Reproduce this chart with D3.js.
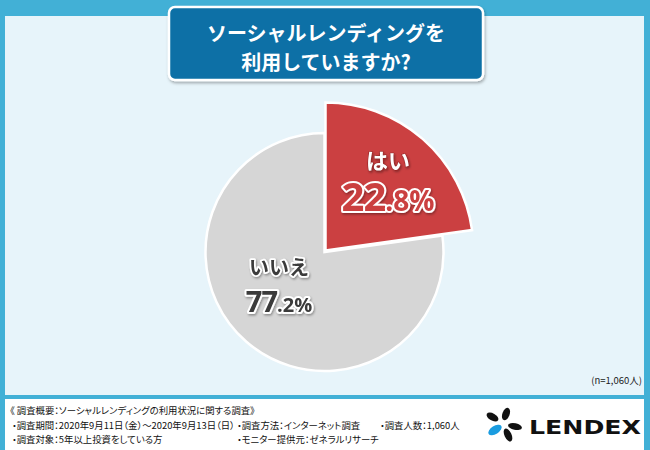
<!DOCTYPE html>
<html><head><meta charset="utf-8">
<script src="https://cdn.jsdelivr.net/npm/d3@7"></script>
<style>
html,body{margin:0;padding:0;background:#fff;}
svg{display:block;font-family:"Noto Sans CJK JP","Noto Sans",sans-serif;}
.sm{font-feature-settings:"palt" 1;}
</style></head>
<body><svg id="c" width="650" height="450"></svg>
<script>
const categories = ["はい", "いいえ"];
const values = [22.8, 77.2];
const intParts = ["22", "77"];
const decParts = [".8%", ".2%"];
const titleLines = ["ソーシャルレンディングを", "利用していますか?"];
const sampleNote = "(n=1,060人)";
const summaryTitle = "《 調査概要：ソーシャルレンディングの利用状況に関する調査》";
const summaryItems = [
  ["・調査期間：2020年9月11日（金）～2020年9月13日（日）", "・調査方法：インターネット調査", "・調査人数：1,060人"],
  ["・調査対象：5年以上投資をしている方", "・モニター提供元：ゼネラルリサーチ"]
];
const brand = "LENDEX";

const svg = d3.select("#c");
const defs = svg.append("defs");
const f = defs.append("filter").attr("id","sh").attr("x","-20%").attr("y","-20%").attr("width","140%").attr("height","140%");
f.append("feDropShadow").attr("dx",1).attr("dy",1.5).attr("stdDeviation",1.2).attr("flood-color","#000").attr("flood-opacity",0.35);
const f2 = defs.append("filter").attr("id","sh2").attr("x","-10%").attr("y","-10%").attr("width","120%").attr("height","130%");
f2.append("feDropShadow").attr("dx",1).attr("dy",2).attr("stdDeviation",1.5).attr("flood-color","#000").attr("flood-opacity",0.3);

// frame
svg.append("rect").attr("width",650).attr("height",450).attr("fill","#42b0d6");
svg.append("rect").attr("x",5).attr("y",16).attr("width",639).attr("height",379).attr("fill","#e7f4fa");
svg.append("rect").attr("x",5).attr("y",399).attr("width",639).attr("height",51).attr("fill","#ffffff");

// title box
svg.append("rect").attr("x",169).attr("y",7).attr("width",314).attr("height",73).attr("rx",6)
  .attr("fill","#0a70a6").attr("stroke","#fff").attr("stroke-width",2.5).attr("filter","url(#sh2)");
svg.append("g").selectAll("text").data(titleLines).join("text")
  .attr("x",326).attr("y",(d,i)=>41+i*29).attr("text-anchor","middle")
  .attr("fill","#fff").attr("font-weight","bold").attr("font-size",20)
  .text(d=>d);

// pie
const pie = d3.pie().sort(null).value(d=>d)(values);
const radii = [148, 119];
const centers = [[325.5,250.5],[324.5,252]];
const colors = ["#cb4041","#d6d6d6"];
const order = [1,0];
order.forEach(i=>{
  const arc = d3.arc().innerRadius(0).outerRadius(radii[i]);
  svg.append("path").attr("transform",`translate(${centers[i]})`)
    .attr("d",arc(pie[i])).attr("fill",colors[i]).attr("stroke","#fff").attr("stroke-width",2.5)
    .attr("stroke-linejoin","miter");
});

// labels
const labelPos = [{x:388,y1:169,y2:211,fill:"#cb4041",catFill:"#fff",big:40,small:28,cat:22},
                  {x:279,y1:275,y2:312,fill:"#3a3a3a",catFill:"#3a3a3a",big:29,small:20,cat:20}];
categories.forEach((c,i)=>{
  const p = labelPos[i];
  svg.append("text").attr("x",p.x).attr("y",p.y1).attr("text-anchor","middle")
    .attr("font-weight","bold").attr("font-size",p.cat)
    .attr("fill",p.catFill).attr("stroke",i===0?"#8a2020":"#fff").attr("stroke-width",i===0?1:3.5)
    .attr("paint-order","stroke").attr("stroke-linejoin","round").attr("filter","url(#sh)")
    .text(c);
  const t = svg.append("text").attr("x",p.x).attr("y",p.y2).attr("text-anchor","middle")
    .attr("font-weight","bold").attr("fill",p.fill).attr("stroke","#fff").attr("stroke-width",4)
    .attr("paint-order","stroke").attr("stroke-linejoin","round").attr("filter","url(#sh)")
    .attr("font-family","'Open Sans','Noto Sans',sans-serif");
  t.append("tspan").attr("font-size",p.big).attr("letter-spacing",-1).text(intParts[i]);
  t.append("tspan").attr("font-size",p.small).text(decParts[i]);
});

// note
svg.append("text").attr("x",642).attr("y",384).attr("text-anchor","end")
  .attr("font-size",9.5).attr("fill","#222").attr("class","sm").text(sampleNote);

// summary
svg.append("text").attr("x",10).attr("y",414).attr("font-size",9.4).attr("fill","#111").attr("class","sm").text(summaryTitle);
const colX = [12, 237, 380];
summaryItems.forEach((row,r)=>{
  row.forEach((s,c)=>{
    svg.append("text").attr("x",colX[c]).attr("y",429+r*14).attr("font-size",9.4).attr("fill","#111")
      .attr("class","sm").text(s);
  });
});

// logo
const petals = [
  {cx:492.5,cy:417,rx:6.5,ry:3.6,rot:30,fill:"#111"},
  {cx:506,cy:414,rx:3.6,ry:6.5,rot:20,fill:"#111"},
  {cx:495,cy:430,rx:7.5,ry:4,rot:-32,fill:"#1a9ce0"},
  {cx:515,cy:426.5,rx:7,ry:3.3,rot:12,fill:"#111"},
  {cx:508,cy:435,rx:3.5,ry:7,rot:-25,fill:"#111"}
];
svg.append("g").selectAll("ellipse").data(petals).join("ellipse")
  .attr("transform",d=>`translate(${d.cx},${d.cy}) rotate(${d.rot})`)
  .attr("rx",d=>d.rx).attr("ry",d=>d.ry).attr("fill",d=>d.fill);
svg.append("text").attr("x",529).attr("y",434).attr("font-size",20).attr("font-weight","bold")
  .attr("fill","#111").attr("font-family","'DejaVu Sans','Liberation Sans',sans-serif")
  .attr("textLength",112).attr("lengthAdjust","spacingAndGlyphs").text(brand);
</script></body></html>
